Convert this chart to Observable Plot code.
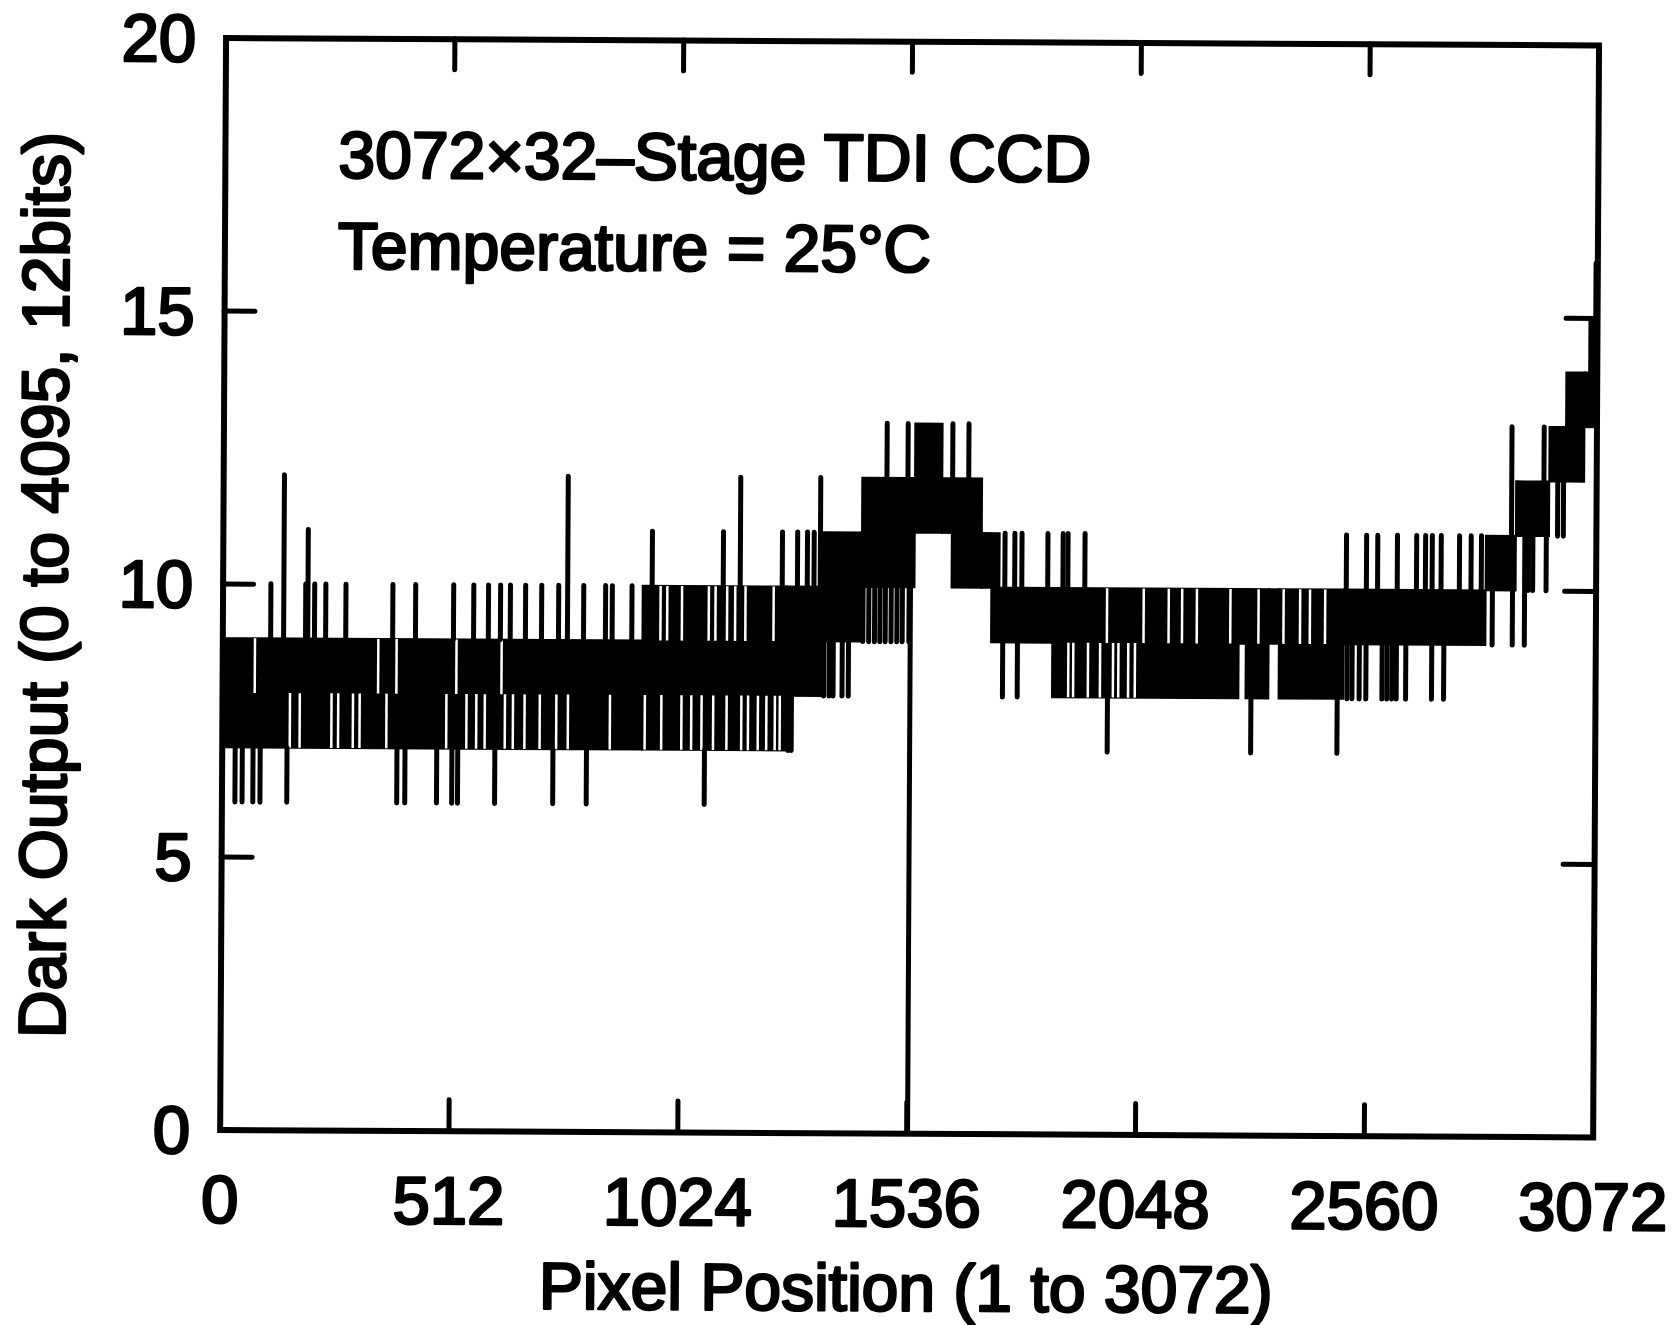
<!DOCTYPE html>
<html>
<head>
<meta charset="utf-8">
<script src="https://cdn.jsdelivr.net/npm/d3@7"></script>
<script src="https://cdn.jsdelivr.net/npm/@observablehq/plot@0.6"></script>
<style>
  html, body { margin: 0; padding: 0; background: #fff; overflow: hidden; }
  #chart svg { display: block; transform: rotate(0.31deg); transform-origin: 909px 587px; }
</style>
</head>
<body>
<div id="chart"></div>
<script>
// ---- text ----
const titleLine1 = "3072×32–Stage TDI CCD";
const titleLine2 = "Temperature = 25°C";
const xTitle = "Pixel Position (1 to 3072)";
const yTitle = "Dark Output (0 to 4095, 12bits)";

// ---- tick values ----
const xTicks = [0, 512, 1024, 1536, 2048, 2560, 3072];
const yTicks = [0, 5, 10, 15, 20];

// ---- dense toggling regions of the signal (pixel range, low/high output level) ----
const bandStart = [0,   940, 1262, 1340, 1430, 1548, 1609, 1631, 1698, 1720, 1857, 2274, 2290, 2341, 2364, 2509, 2826, 2893, 2967, 3004, 3045, 3055];
const bandEnd   = [940, 1262, 1340, 1430, 1548, 1609, 1631, 1698, 1738, 1857, 2274, 2290, 2341, 2364, 2509, 2826, 2893, 2967, 3004, 3045, 3055, 3068];
const bandLow   = [7,   7,    8,    9,    10,   11,   11,   10,   10,   9,    8,    9,    8,    9,    8,    9,    10,   11,   12,   12,   13,   13];
const bandHigh  = [9,   10,   10,   11,   12,   13,   12,   12,   11,   10,   10,   10,   10,   10,   10,   10,   11,   12,   13,   14,   14,   15];

// ---- pixels inside those regions where the signal skipped one level (pixel, from level, to level) ----
const gapPixel = [151, 173, 244, 259, 292, 307, 367, 501, 546, 568, 587, 632, 650, 676, 710, 747, 773, 867,
                  72, 348, 389, 523, 624,
                  945, 982, 1027, 1049, 1072, 1098, 1128, 1161, 1176, 1198, 1217, 1236, 1247,
                  979, 994, 1027, 1087, 1102, 1128, 1146, 1169, 1232,
                  1892, 1903, 1936, 1963, 1992, 2004, 2026, 2041,
                  1978, 2060, 2116, 2146, 2179, 2254, 2317, 2373, 2410, 2432, 2466];
const gapLow   = [7, 7, 7, 7, 7, 7, 7, 7, 7, 7, 7, 7, 7, 7, 7, 7, 7, 7,
                  8, 8, 8, 8, 8,
                  7, 7, 7, 7, 7, 7, 7, 7, 7, 7, 7, 7, 7,
                  9, 9, 9, 9, 9, 9, 9, 9, 9,
                  8, 8, 8, 8, 8, 8, 8, 8,
                  9, 9, 9, 9, 9, 9, 9, 9, 9, 9, 9];
const gapHigh  = [8, 8, 8, 8, 8, 8, 8, 8, 8, 8, 8, 8, 8, 8, 8, 8, 8, 8,
                  9, 9, 9, 9, 9,
                  8, 8, 8, 8, 8, 8, 8, 8, 8, 8, 8, 8, 8,
                  10, 10, 10, 10, 10, 10, 10, 10, 10,
                  9, 9, 9, 9, 9, 9, 9, 9,
                  10, 10, 10, 10, 10, 10, 10, 10, 10, 10, 10];

// ---- isolated upward spikes (pixel, level) ----
const upPixel = [107, 136, 185, 190, 205, 230, 275, 380, 431, 516, 561, 594, 621, 643, 677, 713, 751, 771, 807, 856, 871, 915,
                 960, 1119, 1157, 1251, 1285, 1307, 1322, 1336, 1484, 1531, 1631, 1667,
                 1749, 1771, 1787, 1845, 1879, 1890, 1928,
                 2513, 2558, 2583, 2627, 2670, 2690, 2705, 2725, 2766, 2792, 2815, 2882, 2954, 3068];
const upLevel = [10, 12, 10, 11, 10, 10, 10, 10, 10, 10, 10, 10, 10, 10, 10, 10, 10, 12, 10, 10, 10, 10,
                 11, 11, 12, 11, 11, 11, 11, 12, 13, 13, 13, 13,
                 11, 11, 11, 11, 11, 11, 11,
                 11, 11, 11, 11, 11, 11, 11, 11, 11, 11, 11, 13, 13, 16];

// ---- isolated downward spikes (pixel, level) ----
const downPixel = [29, 45, 69, 85, 145, 391, 409, 480, 514, 527, 610, 740, 815, 1079, 1266, 1273,
                   1345, 1357, 1366, 1386, 1400, 1432, 1445, 1458, 1470, 1482, 1495, 1508, 1520, 1535, 1538,
                   1745, 1778, 1980, 2301, 2494,
                   2516, 2527, 2543, 2558, 2594, 2605, 2616, 2626, 2647, 2705, 2732,
                   2840, 2885, 2912, 2920, 2930, 2960, 2985, 2998];
const downLevel = [6, 6, 6, 6, 6, 6, 6, 6, 6, 6, 6, 6, 6, 6, 7, 7,
                   8, 8, 8, 8, 8, 9, 9, 9, 9, 9, 9, 9, 9, 9, 0,
                   8, 8, 7, 7, 7,
                   8, 8, 8, 8, 8, 8, 8, 8, 8, 8, 8,
                   9, 9, 9, 10, 10, 10, 11, 11];

// ---- build tables ----
const bands = bandStart.map((s, i) => ({x1: s, x2: bandEnd[i], y1: bandLow[i], y2: bandHigh[i]}));
const gaps = gapPixel.map((p, i) => ({x: p, y1: gapLow[i], y2: gapHigh[i]}));
function topAt(p, fallback) {
  let m = -Infinity;
  for (const b of bands) if (p >= b.x1 && p <= b.x2) m = Math.max(m, b.y2);
  return isFinite(m) ? m : fallback;
}
function bottomAt(p, fallback) {
  let m = Infinity;
  for (const b of bands) if (p >= b.x1 && p <= b.x2) m = Math.min(m, b.y1);
  return isFinite(m) ? m : fallback;
}
const spikes = upPixel.map((p, i) => ({x: p, y1: topAt(p, upLevel[i]), y2: upLevel[i]}))
  .concat(downPixel.map((p, i) => ({x: p, y1: bottomAt(p, downLevel[i]), y2: downLevel[i]})));

const W = 1674, H = 1325;
const mL = 222.6, mR = 78.4, mT = 41.25, mB = 191.75;
const plotW = W - mL - mR, plotH = H - mT - mB;
const tickLen = 31;
const font = {fontSize: 66, fontWeight: "normal", fill: "black", stroke: "black", strokeWidth: 2.6};

const inner = xTicks.slice(1, -1);
const innerY = yTicks.slice(1, -1);

const chart = Plot.plot({
  width: W, height: H,
  marginLeft: mL, marginRight: mR, marginTop: mT, marginBottom: mB,
  style: {fontFamily: "'Liberation Sans', Arial, Helvetica, sans-serif", background: "white", overflow: "visible"},
  x: {domain: [0, 3072], axis: null},
  y: {domain: [0, 20], axis: null},
  marks: [
    Plot.rect(bands, {x1: "x1", x2: "x2", y1: "y1", y2: "y2", fill: "black", stroke: "black", strokeWidth: 2}),
    Plot.ruleX(gaps, {x: "x", y1: "y1", y2: "y2", stroke: "white", strokeWidth: 2.5}),
    Plot.ruleX(spikes, {x: "x", y1: "y1", y2: "y2", stroke: "black", strokeWidth: 5, strokeLinecap: "round"}),
    // inward ticks on four sides
    Plot.ruleX(inner, {x: d => d, insetTop: plotH - tickLen, stroke: "black", strokeWidth: 5, strokeLinecap: "round"}),
    Plot.ruleX(inner, {x: d => d, insetBottom: plotH - tickLen, stroke: "black", strokeWidth: 5, strokeLinecap: "round"}),
    Plot.ruleY(innerY, {y: d => d, insetRight: plotW - tickLen, stroke: "black", strokeWidth: 5, strokeLinecap: "round"}),
    Plot.ruleY(innerY, {y: d => d, insetLeft: plotW - tickLen, stroke: "black", strokeWidth: 5, strokeLinecap: "round"}),
    Plot.frame({stroke: "black", strokeWidth: 6}),
    // tick labels
    Plot.text(xTicks, {x: d => d, text: d => String(d), frameAnchor: "bottom", dy: 45, lineAnchor: "top", textAnchor: "middle", ...font, fontSize: 67}),
    Plot.text(yTicks, {y: d => d, text: d => String(d), frameAnchor: "left", dx: -30, dy: 2, lineAnchor: "middle", textAnchor: "end", ...font, fontSize: 67}),
    // axis titles
    Plot.text([xTitle], {text: d => d, frameAnchor: "bottom", dx: 0, dy: 177, lineAnchor: "bottom", textAnchor: "middle", ...font}),
    Plot.text([yTitle], {text: d => d, frameAnchor: "left", rotate: -90, dx: -156, dy: 2, lineAnchor: "bottom", textAnchor: "middle", ...font}),
    // annotation
    Plot.text([titleLine1], {text: d => d, frameAnchor: "top-left", dx: 113, dy: 139, lineAnchor: "bottom", textAnchor: "start", ...font}),
    Plot.text([titleLine2], {text: d => d, frameAnchor: "top-left", dx: 113, dy: 230, lineAnchor: "bottom", textAnchor: "start", ...font})
  ]
});
document.getElementById("chart").appendChild(chart);
</script>
</body>
</html>
